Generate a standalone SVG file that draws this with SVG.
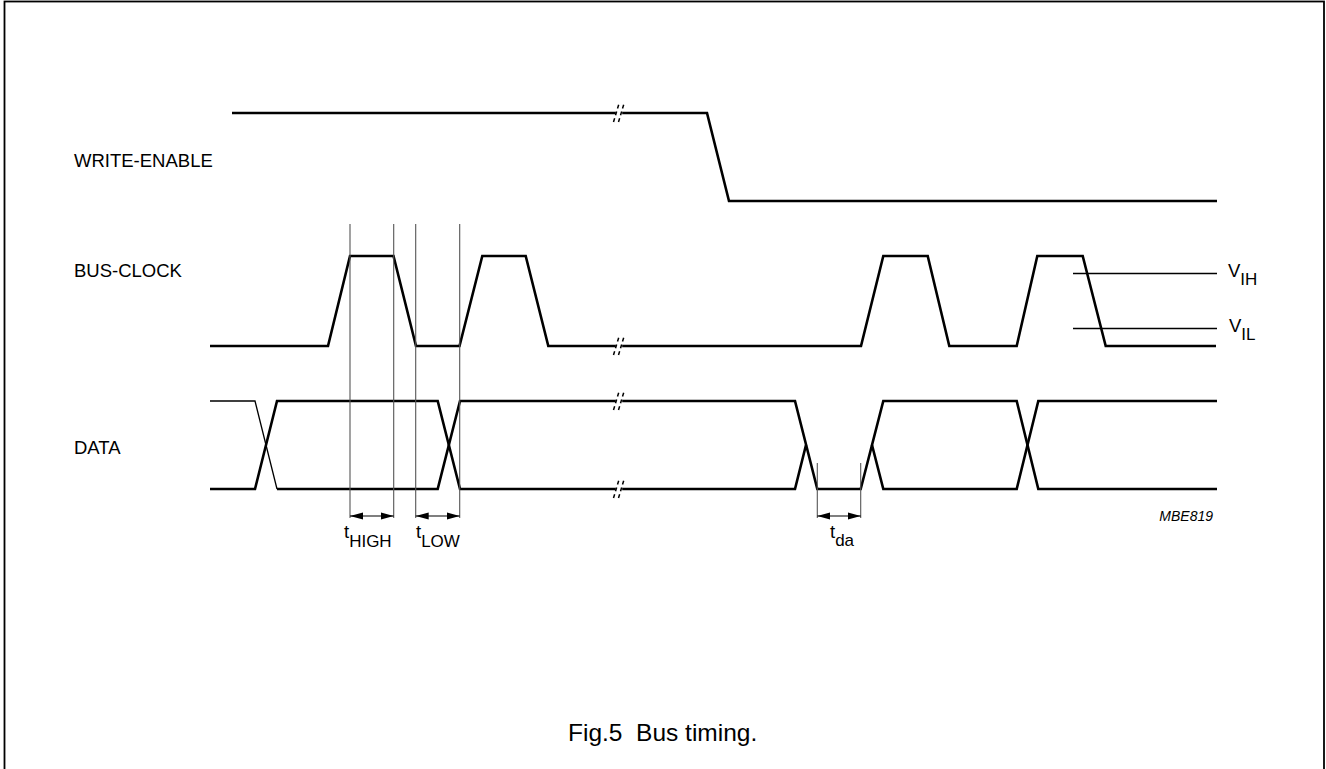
<svg xmlns="http://www.w3.org/2000/svg" xmlns:xlink="http://www.w3.org/1999/xlink" width="1326" height="769" viewBox="0 0 1326 769">
<style>
.sig{fill:none;stroke:#000;stroke-width:2.6;stroke-linejoin:miter}
.thin{fill:none;stroke:#000;stroke-width:1.3}
.ref{fill:none;stroke:#555;stroke-width:1.1}
.dim{fill:none;stroke:#000;stroke-width:1.1;marker-start:url(#ah);marker-end:url(#ah)}
.lbl{font-family:"Liberation Sans",Arial,sans-serif;font-size:18.5px;fill:#000}
.sub{font-size:17px}
</style>
<defs>
<marker id="ah" markerUnits="userSpaceOnUse" markerWidth="14" markerHeight="8" refX="13" refY="4" orient="auto-start-reverse" viewBox="0 0 14 8">
<path d="M0,0.5 L13,4 L0,7.5 z" fill="#000"/>
</marker>
<g id="brk">
<rect x="-3.2" y="-3" width="6.4" height="6" fill="#fff"/>
<path d="M-5.5,9 L0.5,-11 M-0.5,9 L5.5,-11" fill="none" stroke="#000" stroke-width="1.5" stroke-dasharray="4 3"/>
</g>
</defs>
<rect x="0" y="0" width="1326" height="769" fill="#fff"/>
<rect x="4.5" y="1.5" width="1319.5" height="820" fill="none" stroke="#000" stroke-width="1.8"/>

<g id="labels">
<text class="lbl" x="74" y="166.5">WRITE-ENABLE</text>
<text class="lbl" x="74" y="277">BUS-CLOCK</text>
<text class="lbl" x="74" y="454">DATA</text>
</g>

<g id="write-enable">
<polyline class="sig" points="232,113 707,113 729,201 1217,201"/>
<use xlink:href="#brk" x="619" y="113"/>
</g>

<g id="bus-clock">
<polyline class="sig" points="210,346 328,346 350,256 393.5,256 416,346 459.5,346 482.3,256 525.7,256 548.3,346 861,346 883.3,256 927.7,256 949.3,346 1016.7,346 1037.3,256 1082.7,256 1105.7,346 1216,346"/>
<use xlink:href="#brk" x="619" y="346"/>
</g>

<g id="levels">
<line class="thin" x1="1073" y1="273.5" x2="1217" y2="273.5"/>
<line class="thin" x1="1073" y1="328.5" x2="1217" y2="328.5"/>
<text class="lbl" x="1228" y="277">V<tspan class="sub" dy="7.5">IH</tspan></text>
<text class="lbl" x="1229" y="332">V<tspan class="sub" dy="7.5">IL</tspan></text>
</g>

<g id="data">
<polyline class="thin" points="210,401 255,401 277,489"/>
<polyline class="sig" points="210,489 255,489 277,401 437.7,401 460,489 795,489 806,445"/>
<polyline class="sig" points="277,489 437.7,489 460,401 795,401 817.3,489 860.7,489 883.3,401 1016.7,401 1038.3,489 1217,489"/>
<polyline class="sig" points="872,445 883.3,489 1016.7,489 1038.3,401 1217,401"/>
<use xlink:href="#brk" x="619" y="401"/>
<use xlink:href="#brk" x="619" y="489"/>
</g>

<g id="connectors">
<line class="ref" x1="350" y1="224" x2="350" y2="518"/>
<line class="ref" x1="393.7" y1="224" x2="393.7" y2="518"/>
<line class="ref" x1="415.7" y1="224" x2="415.7" y2="518"/>
<line class="ref" x1="459.7" y1="224" x2="459.7" y2="518"/>
<line class="ref" x1="817.3" y1="463" x2="817.3" y2="518"/>
<line class="ref" x1="860.7" y1="463" x2="860.7" y2="518"/>
<line class="dim" x1="350" y1="516" x2="393.7" y2="516"/>
<line class="dim" x1="415.7" y1="516" x2="459.7" y2="516"/>
<line class="dim" x1="817.3" y1="516" x2="860.7" y2="516"/>
</g>

<g id="timing-labels">
<text class="lbl" x="344" y="538">t<tspan class="sub" dy="8.5">HIGH</tspan></text>
<text class="lbl" x="416" y="538">t<tspan class="sub" dy="8.5">LOW</tspan></text>
<text class="lbl" x="830" y="538">t<tspan class="sub" dy="8">da</tspan></text>
</g>

<text class="lbl" x="1213" y="520.5" style="font-size:14px;font-style:italic" text-anchor="end">MBE819</text>
<text class="lbl" x="568" y="740.5" style="font-size:24.5px">Fig.5&#160; Bus timing.</text>
</svg>
